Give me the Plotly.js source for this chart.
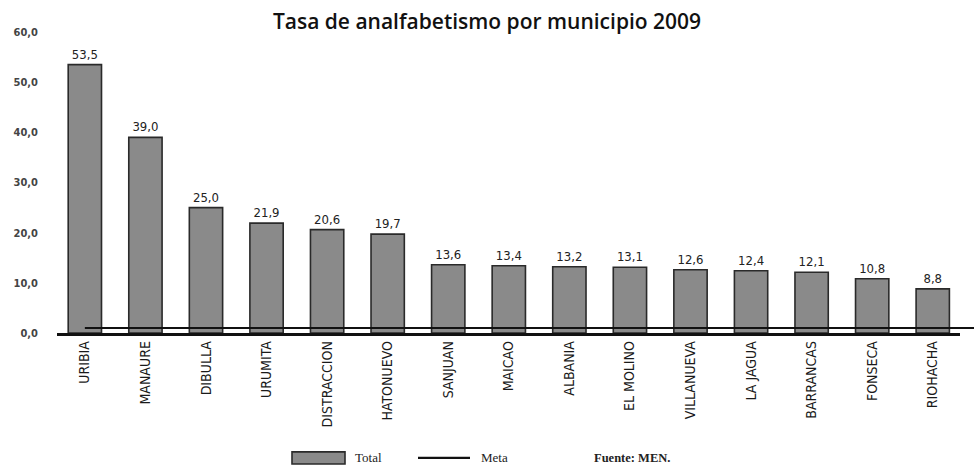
<!DOCTYPE html>
<html>
<head>
<meta charset="utf-8">
<script src="https://cdn.plot.ly/plotly-3.0.1.min.js"></script>
<style>html,body{margin:0;padding:0;background:#fff;}#chart{width:974px;height:466px;}</style>
</head>
<body>
<div id="chart"></div>
<script>
const municipios = ["URIBIA","MANAURE","DIBULLA","URUMITA","DISTRACCION","HATONUEVO","SANJUAN","MAICAO","ALBANIA","EL MOLINO","VILLANUEVA","LA JAGUA","BARRANCAS","FONSECA","RIOHACHA"];
const total = [53.5, 39.0, 25.0, 21.9, 20.6, 19.7, 13.6, 13.4, 13.2, 13.1, 12.6, 12.4, 12.1, 10.8, 8.8];
const meta = [1.0, 1.0, 1.0, 1.0, 1.0, 1.0, 1.0, 1.0, 1.0, 1.0, 1.0, 1.0, 1.0, 1.0, 1.0];
const yTicks = [0, 10, 20, 30, 40, 50, 60];
const legendLabels = ["Total", "Meta"];
const fuente = "Fuente: MEN.";

const barColor = '#8a8a8a', barLine = '#2a2a2a';
const cond = 'DejaVu Sans Condensed, sans-serif';
const traces = [
  {
    type: 'bar', name: legendLabels[0], x: municipios, y: total,
    marker: {color: barColor, line: {color: barLine, width: 1.6}},
    texttemplate: '%{y:.1f}', textposition: 'outside', cliponaxis: false,
    textfont: {family: cond, size: 13, color: '#222'},
    showlegend: false
  },
  {
    type: 'scatter', mode: 'lines', name: legendLabels[1], x: municipios, y: meta,
    line: {color: '#111', width: 2.2}, cliponaxis: false, showlegend: false
  }
];

const legY = -0.415;
const serif = 'Liberation Serif, serif';
const layout = {
  width: 974, height: 466,
  margin: {l: 57, r: 14, t: 32, b: 133},
  paper_bgcolor: '#fff', plot_bgcolor: '#fff',
  separators: ',.',
  bargap: 0.45,
  showlegend: false,
  title: {text: 'Tasa de analfabetismo por municipio 2009', x: 0.5, xanchor: 'center', y: 0.953, yanchor: 'middle',
          font: {family: 'Open Sans, sans-serif', size: 21, color: '#111', weight: 600}},
  xaxis: {
    type: 'category', range: [-0.46, 14.45], automargin: false,
    tickangle: -90, showgrid: false, showline: true, linecolor: '#111', linewidth: 2.5,
    ticks: '', tickfont: {family: cond, size: 14, color: '#1a1a1a'},
    zeroline: false
  },
  yaxis: {
    range: [0, 60], tickvals: yTicks, tickformat: '.1f', showgrid: false, showline: false, zeroline: false,
    automargin: false,
    ticks: '', tickfont: {family: cond, size: 11, color: '#444', weight: 600}, ticklabelstandoff: 18
  },
  shapes: [
    {type: 'line', xref: 'paper', yref: 'y', x0: 0.031, x1: 1.016, y0: meta[0], y1: meta[0], line: {color: '#111', width: 2.2}, layer: 'above'},
    {type: 'rect', xref: 'paper', yref: 'paper', x0: (292-57)/903, x1: (345-57)/903, y0: legY - 0.02, y1: legY + 0.02,
     fillcolor: barColor, line: {color: barLine, width: 1.6}},
    {type: 'line', xref: 'paper', yref: 'paper', x0: (418-57)/903, x1: (470-57)/903, y0: legY, y1: legY,
     line: {color: '#111', width: 2.2}}
  ],
  annotations: [
    {text: legendLabels[0], xref: 'paper', yref: 'paper', x: (353-57)/903, y: legY, xanchor: 'left', yanchor: 'middle',
     showarrow: false, font: {family: serif, size: 13, color: '#222'}},
    {text: legendLabels[1], xref: 'paper', yref: 'paper', x: (479-57)/903, y: legY, xanchor: 'left', yanchor: 'middle',
     showarrow: false, font: {family: serif, size: 13, color: '#222'}},
    {text: '<b>' + fuente + '</b>', xref: 'paper', yref: 'paper', x: (592-57)/903, y: legY, xanchor: 'left', yanchor: 'middle',
     showarrow: false, font: {family: serif, size: 12.5, color: '#222'}}
  ]
};

Plotly.newPlot('chart', traces, layout, {displayModeBar: false, staticPlot: true});
</script>
</body>
</html>
